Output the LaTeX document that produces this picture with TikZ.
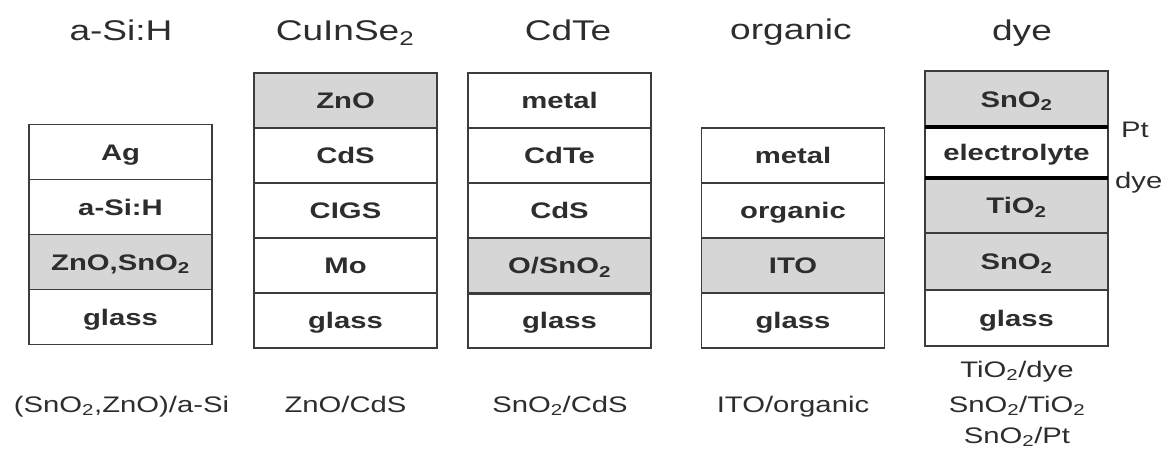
\documentclass[tikz,border=0pt]{standalone}
\usepackage{fontspec}
\setmainfont{Liberation Sans}[FakeStretch=1.3]
\usetikzlibrary{positioning}
\definecolor{linegray}{RGB}{60,60,60}
\definecolor{tcogray}{RGB}{214,214,214}
\definecolor{txtgray}{RGB}{45,45,45}
\newcommand{\titlefont}{\fontsize{28.5}{32}\selectfont}
\newcommand{\labelfont}{\fontsize{22.5}{26}\selectfont}
\tikzset{
  layer/.style={draw=linegray, line width=1.8pt, fill=white, minimum width=183pt, minimum height=55pt,
    inner sep=0pt, outer sep=0pt, text height=16.1pt, text depth=0pt, font=\labelfont\bfseries, text=txtgray},
  tco/.style={layer, fill=tcogray},
  celltitle/.style={anchor=base, font=\titlefont, text=txtgray, inner sep=0pt},
  junction/.style={anchor=base, font=\labelfont, text=txtgray, inner sep=0pt},
  interface/.style={line width=4pt, black}
}
\begin{document}
\begin{tikzpicture}[line cap=butt,line join=miter,x=1pt,y=-1pt]
	\useasboundingbox (0,0) rectangle (1168,450);
	\node[celltitle] (tsi) at (121,40) {a-Si:H};
	\node[celltitle] (tcis) at (345,40) {CuInSe\textsubscript{2}};
	\node[celltitle] (tcd) at (568,40) {CdTe};
	\node[celltitle] (torg) at (791,39) {organic};
	\node[celltitle] (tdye) at (1022,40) {dye};
	% a-Si:H
	\node[layer] (si1) at (120.5,152) {Ag};
	\node[layer, below=0pt of si1] (si2) {a-Si:H};
	\node[tco, below=0pt of si2] (si3) {ZnO,SnO\textsubscript{2}};
	\node[layer, below=0pt of si3] (si4) {glass};
	% CuInSe2
	\node[tco] (cis1) at (345.5,100.5) {ZnO};
	\node[layer, below=0pt of cis1] (cis2) {CdS};
	\node[layer, below=0pt of cis2] (cis3) {CIGS};
	\node[layer, below=0pt of cis3] (cis4) {Mo};
	\node[layer, below=0pt of cis4] (cis5) {glass};
	% CdTe
	\node[layer] (cd1) at (559.5,100.5) {metal};
	\node[layer, below=0pt of cd1] (cd2) {CdTe};
	\node[layer, below=0pt of cd2] (cd3) {CdS};
	\node[tco, below=0pt of cd3] (cd4) {O/SnO\textsubscript{2}};
	\node[layer, below=0pt of cd4] (cd5) {glass};
	\draw[line width=3pt, linegray] (cd4.south west) -- (cd4.south east);
	% organic
	\node[layer] (org1) at (793,155.5) {metal};
	\node[layer, below=0pt of org1] (org2) {organic};
	\node[tco, below=0pt of org2] (org3) {ITO};
	\node[layer, below=0pt of org3] (org4) {glass};
	% dye
	\node[tco, minimum height=56pt] (dy1) at (1016.5,99) {SnO\textsubscript{2}};
	\node[layer, minimum height=51pt, below=0pt of dy1] (dy2) {electrolyte};
	\node[tco, below=0pt of dy2] (dy3) {TiO\textsubscript{2}};
	\node[tco, minimum height=57pt, below=0pt of dy3] (dy4) {SnO\textsubscript{2}};
	\node[layer, minimum height=56pt, below=0pt of dy4] (dy5) {glass};
	\draw[interface] (dy1.south west) -- (dy1.south east);
	\draw[interface] (dy2.south west) -- (dy2.south east);
	\node[junction, anchor=base west] (pt) at (1121,137) {Pt};
	\node[junction, anchor=base west] (dyel) at (1115,188) {dye};
	% junctions
	\node[junction] (jsi) at (121.5,412) {(SnO\textsubscript{2},ZnO)/a-Si};
	\node[junction] (jcis) at (345.5,412) {ZnO/CdS};
	\node[junction] (jcd) at (560,412) {SnO\textsubscript{2}/CdS};
	\node[junction] (jorg) at (793,412) {ITO/organic};
	\node[junction] (jdy1) at (1017,377) {TiO\textsubscript{2}/dye};
	\node[junction] (jdy2) at (1017,412) {SnO\textsubscript{2}/TiO\textsubscript{2}};
	\node[junction] (jdy3) at (1017,443) {SnO\textsubscript{2}/Pt};
\end{tikzpicture}
\end{document}
